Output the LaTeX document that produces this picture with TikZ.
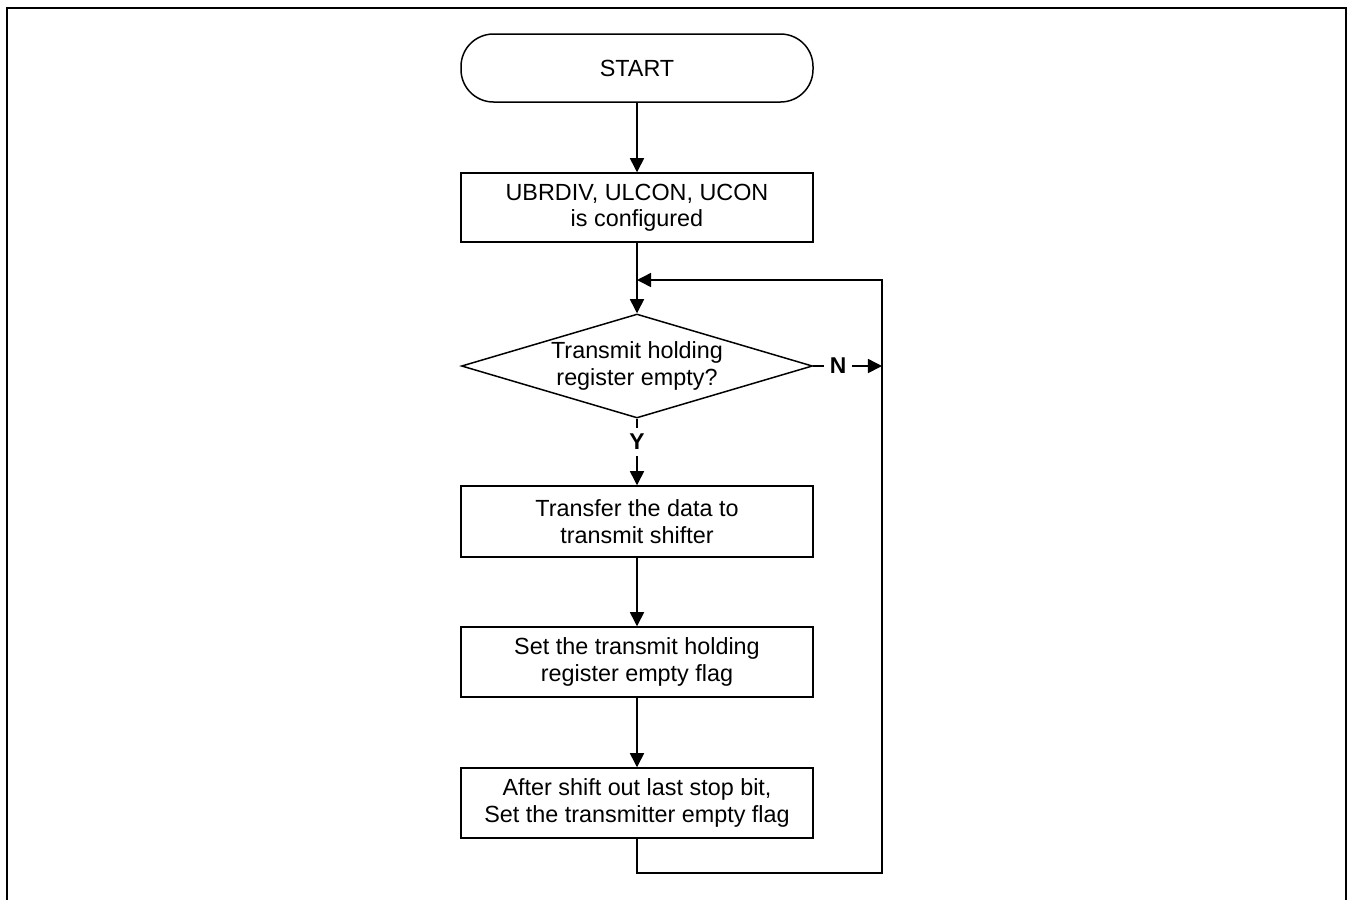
\documentclass[tikz,border=0pt]{standalone}
\usepackage{fontspec}
\setmainfont{Liberation Sans}
\usetikzlibrary{arrows.meta, positioning, shapes.geometric}

\begin{document}
\begin{tikzpicture}[>={Triangle[length=8pt, width=8pt]}, line width=0.85pt,
		terminal/.style={rectangle, rounded corners=0.65cm, draw=black, fill=white, minimum width=7.04cm, minimum height=1.36cm, font=\fontsize{13.3}{15}\selectfont},
		process/.style={rectangle, draw=black, fill=white, minimum width=7.04cm, minimum height=1.40cm, align=center, font=\fontsize{13.3}{15}\selectfont},
		decision/.style={diamond, draw=black, fill=white, aspect=3.375, inner sep=0pt, minimum width=7.02cm, minimum height=2.08cm, align=center, font=\fontsize{13.3}{15}\selectfont},
		answer/.style={inner sep=3pt, font=\fontsize{13}{15}\selectfont\bfseries}]
		
		% Moldura
		\useasboundingbox (0,0) rectangle (26.96,-18);
		\draw[line width=1.2pt] (0.14,-18) -- (0.14,-0.16) -- (26.92,-0.16) -- (26.92,-18);
		
		% Blocos
		\node[terminal] (start) at (12.74,-1.36) {START};
		\node[process, minimum height=1.38cm] (conf) at (12.74,-4.15) {UBRDIV, ULCON, UCON\\is configured};
		\node[decision] (thr) at (12.74,-7.32) {Transmit holding\\register empty?};
		\node[process, minimum height=1.42cm] (xfer) at (12.74,-10.43) {Transfer the data to\\transmit shifter};
		\node[process] (setflag) at (12.74,-13.24) {Set the transmit holding\\register empty flag};
		\node[process] (stopbit) at (12.74,-16.06) {After shift out last stop bit,\\Set the transmitter empty flag};
		
		% Rotulos Y / N
		\node[answer] (yes) at (12.74,-8.84) {Y};
		\node[answer] (no) at (16.76,-7.32) {N};
		
		% Pontos do laco
		\coordinate (join) at (12.74,-5.6);
		\coordinate (nhit) at (17.64,-7.32);
		\coordinate (low) at (12.74,-17.46);
		
		% Arestas
		\draw[->] (start) -- (conf);
		\draw[->] (conf) -- (thr);
		\draw (thr.south) -- (yes.north);
		\draw[->] (yes.south) -- (xfer.north);
		\draw (thr.east) -- (no.west);
		\draw[->] (no.east) -- (nhit);
		\draw[->] (xfer) -- (setflag);
		\draw[->] (setflag) -- (stopbit);
		
		% Laco de volta
		\draw[->] (stopbit.south) -- (low) -| (nhit) |- (join);
	\end{tikzpicture}
\end{document}
